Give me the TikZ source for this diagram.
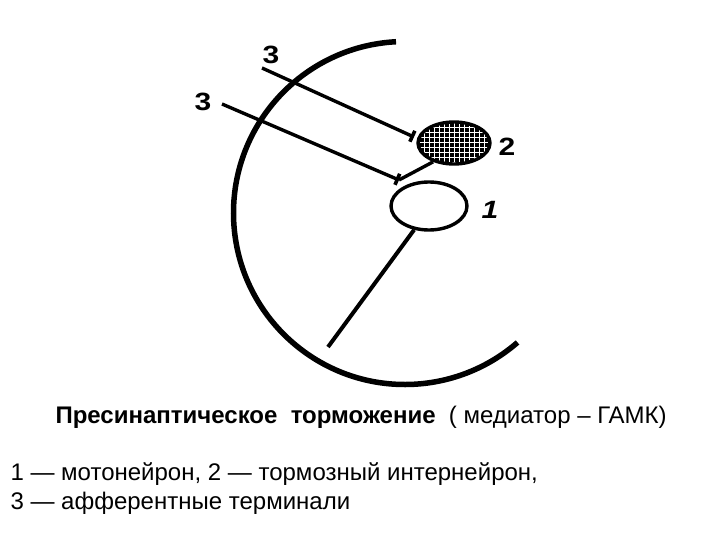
\documentclass[tikz,border=0pt]{standalone}
\usepackage{fontspec}
\setmainfont{Liberation Sans}
\usetikzlibrary{shapes.geometric,arrows.meta}

\begin{document}
\begin{tikzpicture}[x=1pt,y=-1pt,
  syn/.style={line width=3.4pt,-{Bar[width=12pt,line width=3.6pt]}},
  num/.style={font=\fontsize{25}{25}\selectfont\bfseries,xscale=1.2}]
  \useasboundingbox (0,0) rectangle (720,540);
  % cell body outline
  \draw[line width=5.5pt] (405,213) ++(-93:171.5) arc[start angle=-93,end angle=-311,radius=171.5];
  % neurons
  \node [draw,ellipse,line width=3.4pt,minimum width=76,minimum height=48](moto) at (429,206) {};
  \node [draw,ellipse,line width=3.4pt,fill=black,minimum width=72,minimum height=42,
    path picture={\draw[white,line width=1pt,step=5pt] (path picture bounding box.south west) grid (path picture bounding box.north east);}](inter) at (454,143) {};
  \node [num](n1) at (490,210) {\itshape 1};
  \node [num](n2) at (507,147) {2};
  \node [num](n3a) at (271,55) {3};
  \node [num](n3b) at (203,102) {3};
  \coordinate (a1) at (262,68);
  \coordinate (a2) at (222,104);
  \coordinate (s1) at (414,137);
  \coordinate (s2) at (399,180);
  \coordinate (ax) at (328,347);
  % afferent terminals and synapses
  \draw [syn] (a1)--(s1);
  \draw [syn] (a2)--(s2);
  \draw [line width=3.4pt] (inter.222)--(s2);
  \draw [line width=4pt] (moto.238)--(ax);
  % captions
  \node [anchor=base west,font=\fontsize{24}{24}\selectfont](cap) at (52,423) {\textbf{Пресинаптическое\ \ торможение}\ \ ( медиатор – ГАМК)};
  \node [anchor=base west,font=\fontsize{24}{24}\selectfont](leg1) at (7,480) {1 — мотонейрон, 2 — тормозный интернейрон,};
  \node [anchor=base west,font=\fontsize{24}{24}\selectfont](leg2) at (7,509) {3 — афферентные терминали};
\end{tikzpicture}
\end{document}
